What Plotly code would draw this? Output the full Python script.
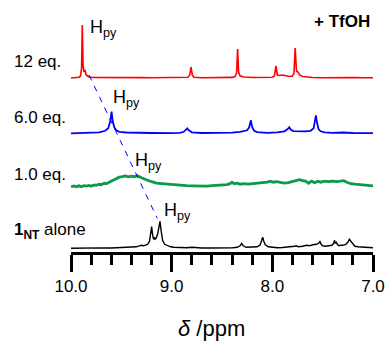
import plotly.graph_objects as go

# ---------------- data (ppm, relative intensity) ----------------
red_ppm = [10.0, 9.95, 9.92, 9.905, 9.895, 9.888, 9.88, 9.87, 9.86, 9.85, 9.82, 9.78, 9.7, 9.6, 9.5, 9.4,
           9.3, 9.2, 9.1, 9.0, 8.9, 8.84, 8.82, 8.808, 8.795, 8.78, 8.7, 8.6, 8.5, 8.4, 8.37, 8.355, 8.345,
           8.335, 8.32, 8.28, 8.2, 8.1, 8.0, 7.98, 7.964, 7.95, 7.93, 7.90, 7.87, 7.83, 7.80, 7.785, 7.773,
           7.76, 7.745, 7.73, 7.7, 7.6, 7.5, 7.4, 7.3, 7.2, 7.1, 7.0]
red_int = [0, 0.3, 0.8, 2, 10, 53, 12, 6, 8, 3, 1, 0.5, 0.6, 0.2, 0.5, 0.3,
           0.4, 0.2, 0.5, 0.3, 0.4, 0.8, 3, 11, 3, 0.8, 0.3, 0.5, 0.3, 0.6, 1.5, 5, 29,
           6, 2, 1, 0.5, 0.3, 0.8, 2, 12, 3, 2.5, 3, 2.5, 1.5, 2, 5, 30,
           7, 6, 3, 1.5, 0.5, 0.3, 0.5, 0.2, 0.4, 0.2, 0.3]

blue_ppm = [10.0, 9.9, 9.8, 9.72, 9.66, 9.63, 9.61, 9.597, 9.585, 9.57, 9.55, 9.52, 9.45, 9.35, 9.2, 9.0,
            8.92, 8.88, 8.86, 8.845, 8.83, 8.80, 8.7, 8.6, 8.5, 8.4, 8.32, 8.28, 8.25, 8.23, 8.213, 8.20,
            8.18, 8.15, 8.05, 7.95, 7.88, 7.85, 7.832, 7.815, 7.79, 7.68, 7.62, 7.59, 7.577, 7.567, 7.555,
            7.54, 7.52, 7.48, 7.4, 7.3, 7.2, 7.1, 7.0]
blue_int = [0, 0.3, 0.5, 1, 2.5, 5, 12, 21.7, 12, 6, 3, 1.5, 0.8, 0.4, 0.3, 0.2,
            0.5, 1.5, 3, 5, 3, 1, 0.3, 0.5, 0.3, 0.6, 1.5, 2.5, 3, 6, 13, 6,
            2.5, 1.2, 0.5, 1, 2, 4, 6, 3.5, 2.2, 2, 2.5, 5, 11, 18, 10,
            4, 2, 1, 0.5, 0.8, 0.3, 0.4, 0.2]

green_ppm = [10.0, 9.97, 9.95, 9.92, 9.9, 9.87, 9.85, 9.82, 9.8, 9.77, 9.75, 9.72, 9.7, 9.67, 9.65, 9.62,
             9.58, 9.55, 9.52, 9.49, 9.46, 9.43, 9.40, 9.37, 9.34, 9.31, 9.28, 9.24, 9.20, 9.15, 9.10,
             9.05, 9.0, 8.95, 8.9, 8.85, 8.8, 8.75, 8.7, 8.65, 8.6, 8.55, 8.5, 8.45, 8.42, 8.40, 8.38,
             8.35, 8.32, 8.28, 8.24, 8.2, 8.15, 8.1, 8.05, 8.02, 7.99, 7.96, 7.92, 7.88, 7.84, 7.80,
             7.76, 7.73, 7.70, 7.67, 7.64, 7.61, 7.58, 7.55, 7.52, 7.48, 7.44, 7.40, 7.36, 7.32, 7.29,
             7.26, 7.22, 7.18, 7.14, 7.10, 7.05, 7.0]
green_int = [0, 0.8, 0, 0.9, 0, 1.0, 0.6, 1.3, 0.5, 1.8, 1.3, 2.4, 2, 3.4, 3, 4.5,
             6.5, 8, 9.5, 10, 10.8, 9.8, 10.5, 10, 11, 9.5, 8, 6.5, 5, 3.5, 3,
             2.5, 2, 1.8, 1.5, 1, 0.8, 0.5, 0.7, 0.5, 1, 1.2, 1.5, 2, 3, 4.5, 3,
             3.5, 2.5, 3, 2.5, 3, 3, 3.5, 4.5, 5.5, 4.5, 5, 4, 3.5, 4, 5,
             6, 7, 6, 5.5, 3.5, 5.5, 4, 5.5, 4.5, 5.5, 5, 5.5, 5, 5.5, 6,
             4.5, 3, 2.5, 2, 1.5, 1, 0.8]

black_ppm = [10.0, 9.9, 9.8, 9.7, 9.6, 9.5, 9.45, 9.40, 9.35, 9.32, 9.30, 9.28, 9.26, 9.24, 9.22, 9.205,
             9.199, 9.19, 9.18, 9.172, 9.165, 9.155, 9.14, 9.125, 9.116, 9.105, 9.09, 9.07, 9.05, 9.03,
             9.01, 8.98, 8.95, 8.9, 8.85, 8.8, 8.75, 8.7, 8.6, 8.5, 8.4, 8.35, 8.32, 8.305, 8.29, 8.26,
             8.2, 8.15, 8.12, 8.105, 8.096, 8.085, 8.07, 8.04, 8.0, 7.95, 7.9, 7.85, 7.8, 7.78, 7.76,
             7.74, 7.7, 7.66, 7.63, 7.60, 7.56, 7.54, 7.527, 7.515, 7.50, 7.47, 7.44, 7.41, 7.39, 7.382,
             7.375, 7.365, 7.355, 7.34, 7.32, 7.30, 7.27, 7.25, 7.235, 7.22, 7.20, 7.18, 7.15, 7.1,
             7.05, 7.0]
black_int = [0, 0.3, 0.2, 0.4, 0.3, 0.5, 0.8, 1, 1.5, 2.5, 3, 2.5, 3, 4, 7, 16,
             21.6, 14, 9, 11, 9, 10, 14, 22, 27, 18, 8, 4, 3, 2.5,
             1.5, 1, 0.8, 0.8, 0.5, 1, 0.4, 0.3, 0.3, 0.2, 0.4, 1, 2.5, 5, 2.5, 1,
             1, 1.5, 3.5, 7, 11, 7, 3.5, 1.5, 1, 0.5, 0.8, 1, 1.5, 2, 2.5,
             1.5, 2, 3, 2.5, 3.5, 4, 5, 6.7, 4, 2.5, 2, 2.5, 3, 5, 8,
             5, 6.5, 4, 2.5, 3, 3, 4, 6, 9, 7, 3.5, 2, 1.5, 1,
             0.8, 0.5]

series_names = ["12 eq.", "6.0 eq.", "1.0 eq.", "<b>1</b><sub><b>NT</b></sub> alone"]
series_ppm = [red_ppm, blue_ppm, green_ppm, black_ppm]
series_int = [red_int, blue_int, green_int, black_int]
series_offset = [174, 118.7, 65.3, 3.7]
series_color = ["#ff0000", "#0000ff", "#0a9a4a", "#000000"]
series_width = [1.6, 1.8, 2.8, 1.4]

# H_py label positions (ppm, y) and the dashed guide line
hpy_ppm = [9.831, 9.606, 9.387, 9.099]
hpy_y = [224, 154, 91, 41]
guide_ppm = [9.821, 9.143]
guide_y = [177, 33.7]

xticks = [10.0, 9.0, 8.0, 7.0]
tick_labels = ["10.0", "9.0", "8.0", "7.0"]

FONT = "Liberation Sans, Arial, Helvetica, sans-serif"
PLOT_H = 252.0   # y-range span (one unit = one pixel)
PLOT_L, PLOT_W = 71.0, 302.0

fig = go.Figure()
for p, it, off, c, w in zip(series_ppm, series_int, series_offset, series_color, series_width):
    fig.add_trace(go.Scatter(x=p, y=[v + off for v in it], mode="lines",
                             line=dict(color=c, width=w), showlegend=False, hoverinfo="skip"))

fig.add_shape(type="line", x0=guide_ppm[0], y0=guide_y[0], x1=guide_ppm[1], y1=guide_y[1],
              xref="x", yref="y", line=dict(color="#0000ff", width=1, dash="6px,6px"))

for x, y in zip(hpy_ppm, hpy_y):
    fig.add_annotation(x=x, y=y, xref="x", yref="y", text="H<sub>py</sub>", showarrow=False,
                       xanchor="left", yanchor="middle", font=dict(size=18, color="black", family=FONT))

label_y = [191, 134.5, 78, 21]
for name, y in zip(series_names, label_y):
    fig.add_annotation(x=(12 - PLOT_L) / PLOT_W, y=y / PLOT_H, xref="paper", yref="paper", text=name,
                       showarrow=False, xanchor="left", yanchor="middle",
                       font=dict(size=17, color="black", family=FONT))

fig.add_annotation(x=(372 - PLOT_L) / PLOT_W, y=231 / PLOT_H, xref="paper", yref="paper",
                   text="<b>+ TfOH</b>", showarrow=False, xanchor="right", yanchor="middle",
                   font=dict(size=17, color="black", family=FONT))

fig.add_annotation(x=(211 - PLOT_L) / PLOT_W, y=-76 / PLOT_H, xref="paper", yref="paper",
                   text="<i>δ</i> /ppm", showarrow=False, xanchor="center", yanchor="middle",
                   font=dict(size=22, color="black", family=FONT))

fig.update_layout(
    width=388, height=344,
    margin=dict(l=71, r=15, t=0, b=92),
    paper_bgcolor="white", plot_bgcolor="white",
    xaxis=dict(range=[10.0, 7.0], showgrid=False, zeroline=False, showline=True,
               linecolor="black", linewidth=3, ticks="outside", ticklen=17, tickwidth=3,
               tickcolor="black", tickvals=xticks, ticktext=tick_labels,
               tickfont=dict(size=17, color="black", family=FONT),
               minor=dict(dtick=0.2, ticks="outside", ticklen=10, tickwidth=2.5, tickcolor="black",
                          showgrid=False)),
    yaxis=dict(range=[0, PLOT_H], visible=False, showgrid=False, zeroline=False),
)

fig.write_html("out.html")
